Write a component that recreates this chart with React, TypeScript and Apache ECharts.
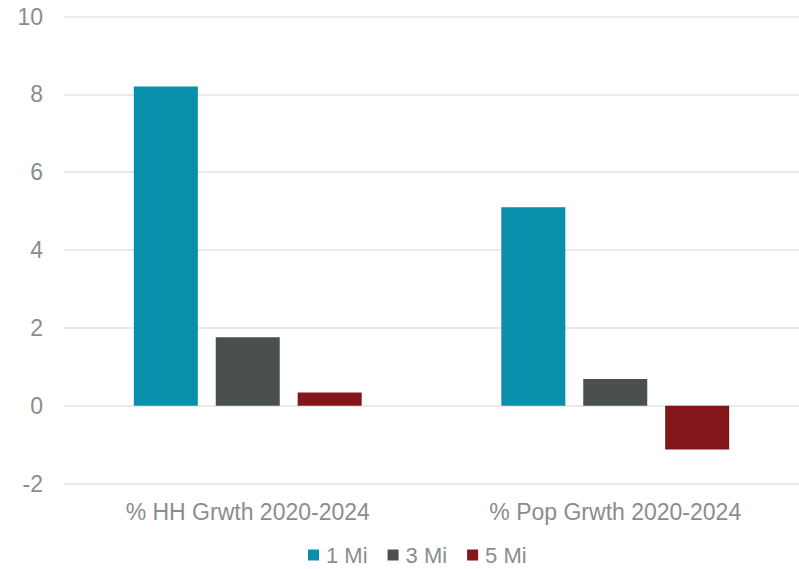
import React, { useEffect, useRef } from "react";
import * as echarts from "echarts";

const categories = ["% HH Grwth 2020-2024", "% Pop Grwth 2020-2024"];
const seriesNames = ["1 Mi", "3 Mi", "5 Mi"];
const mi1 = [8.2, 5.1];
const mi3 = [1.76, 0.69];
const mi5 = [0.34, -1.12];
const colors = ["#078FAB", "#4A5050", "#83161A"];

const FONT = "'Liberation Sans', Arial, sans-serif";

export default function App() {
  const ref = useRef<HTMLDivElement>(null);
  useEffect(() => {
    if (!ref.current) return;
    const chart = echarts.init(ref.current, null, { renderer: "svg" });
    const data = [mi1, mi3, mi5];
    chart.setOption({
      animation: false,
      backgroundColor: "#ffffff",
      grid: { left: 64, right: 0, top: 16.5, bottom: 85.3, containLabel: false },
      legend: {
        left: 308,
        top: 544,
        padding: 0,
        itemWidth: 11,
        itemHeight: 11,
        itemGap: 20,
        icon: "rect",
        textStyle: { color: "#8A8D8F", fontSize: 22, fontFamily: FONT, padding: [0, 0, 0, 2] },
        data: seriesNames,
      },
      xAxis: {
        type: "category",
        data: categories,
        position: "bottom",
        axisLine: { show: false },
        axisTick: { show: false },
        axisLabel: { color: "#8A8D8F", fontSize: 23, fontFamily: FONT, margin: 17 },
      },
      yAxis: {
        type: "value",
        min: -2,
        max: 10,
        interval: 2,
        axisLine: { show: false },
        axisTick: { show: false },
        axisLabel: { color: "#8A8D8F", fontSize: 23, fontFamily: FONT, margin: 21 },
        splitLine: { lineStyle: { color: "#E3E3E3", width: 1.5 } },
      },
      series: seriesNames.map((name, i) => ({
        name,
        type: "bar",
        data: data[i],
        barWidth: 64,
        barGap: "28%",
        itemStyle: { color: colors[i] },
      })),
    });
    return () => chart.dispose();
  }, []);
  return (
    <div
      ref={ref}
      style={{ position: "fixed", left: 0, top: 0, width: 799, height: 569 }}
    />
  );
}
